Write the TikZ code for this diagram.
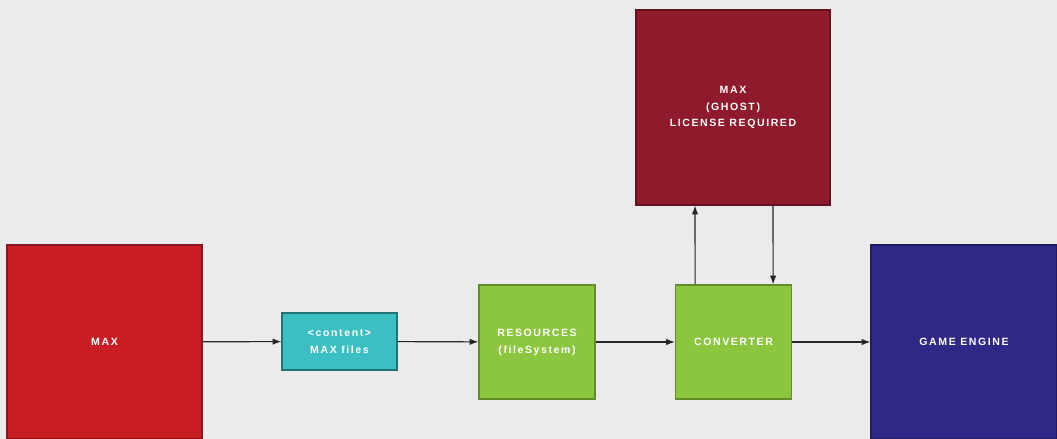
\documentclass[tikz,border=0pt]{standalone}
\usepackage{fontspec}
\newfontfamily\boxfont[LetterSpace=15]{Liberation Sans}
\usepackage{tikz}
\usetikzlibrary{arrows.meta,positioning}
\definecolor{bggray}{HTML}{EBEBEB}
\definecolor{maxred}{HTML}{C91D26}
\definecolor{ghostred}{HTML}{8E1A2C}
\definecolor{fileteal}{HTML}{3BBFC3}
\definecolor{stepgreen}{HTML}{8CC63E}
\definecolor{engineblue}{HTML}{2F2887}
\tikzset{
    -Latex,semithick,
    block/.style ={rectangle, draw, line width=0.8pt, text=white, align=center,
        font=\boxfont\bfseries\fontsize{7.5}{12}\selectfont, inner sep=0pt},
    flow/.style = {-{Latex[length=2.2mm,width=1.6mm]}, thick, black!85}
}
\begin{document}
\begin{tikzpicture}
	\useasboundingbox[fill=bggray] (0,0) rectangle (26.425,10.975);
	\node[block, fill=maxred, draw=maxred!70!black, minimum width=4.875cm, minimum height=4.85cm] (max) at (2.6125,2.425) {MAX};
	\node[block, fill=fileteal, draw=fileteal!60!black, minimum width=2.875cm, minimum height=1.425cm] (files) at (8.4875,2.4375) {<content>\\MAX files};
	\node[block, fill=stepgreen, draw=stepgreen!70!black, minimum width=2.9cm, minimum height=2.85cm] (res) at (13.425,2.425) {RESOURCES\\(fileSystem)};
	\node[block, fill=stepgreen, draw=stepgreen!70!black, minimum width=2.9cm, minimum height=2.85cm] (conv) at (18.3375,2.425) {CONVERTER};
	\node[block, fill=engineblue, draw=engineblue!70!black, minimum width=4.65cm, minimum height=4.85cm] (engine) at (24.1,2.425) {GAME ENGINE};
	\node[block, fill=ghostred, draw=ghostred!70!black, minimum width=4.85cm, minimum height=4.875cm] (ghost) at (18.325,8.2875) {MAX\\(GHOST)\\LICENSE REQUIRED};

	\draw[flow] (max) -- (files);
	\draw[flow] (files) -- (res);
	\draw[flow] (res) -- (conv);
	\draw[flow] (conv) -- (engine);
	\draw[flow] ([xshift=-0.96cm]conv.north) -- ([xshift=-0.95cm]ghost.south);
	\draw[flow] ([xshift=1cm]ghost.south) -- ([xshift=0.99cm]conv.north);
\end{tikzpicture}
\end{document}
